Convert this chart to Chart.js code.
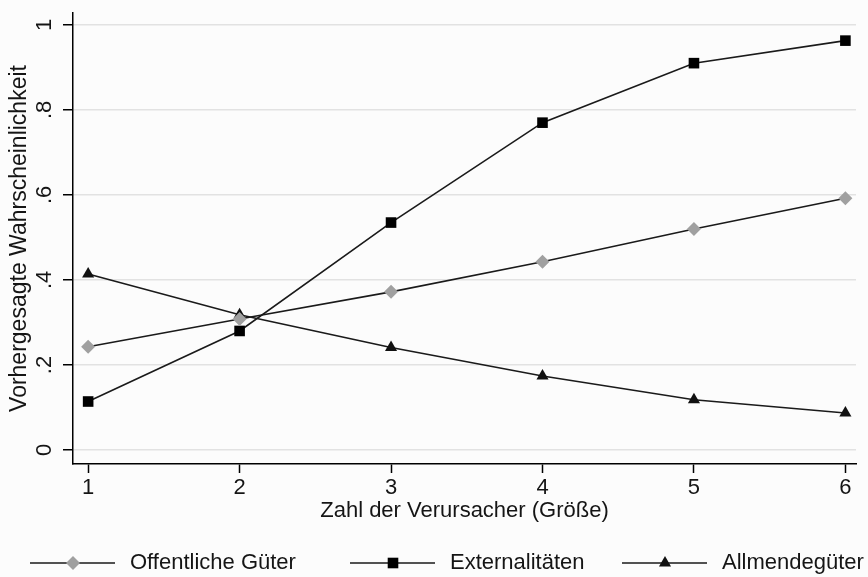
<!DOCTYPE html>
<html>
<head>
<meta charset="utf-8">
<script src="https://cdn.jsdelivr.net/npm/chart.js@4"></script>
<style>
  html, body { margin: 0; padding: 0; background: #fcfcfc; }
  #wrap { width: 868px; height: 577px; }
</style>
</head>
<body>
<div id="wrap"><canvas id="chart" width="868" height="577"></canvas></div>
<script>
// data
var xValues = [1, 2, 3, 4, 5, 6];
var oeffentlicheGueter = [0.243, 0.308, 0.372, 0.443, 0.520, 0.592];
var externalitaeten   = [0.114, 0.280, 0.535, 0.770, 0.910, 0.963];
var allmendegueter    = [0.414, 0.318, 0.241, 0.174, 0.118, 0.087];

var seriesLabels = ['Offentliche Güter', 'Externalitäten', 'Allmendegüter'];
var yTicks = [0, 0.2, 0.4, 0.6, 0.8, 1];
var yTickLabels = ['0', '.2', '.4', '.6', '.8', '1'];

var FONT = "'Liberation Sans', Arial, sans-serif";
var TEXT = '#151515';

function points(values) {
  return xValues.map(function(x, i) { return { x: x, y: values[i] }; });
}

// legend: line with marker in the middle, then the label
var legendX = [30, 350, 622];
var stataLegend = {
  id: 'stataLegend',
  afterDraw: function(chart) {
    var ctx = chart.ctx;
    var y = 563;
    ctx.save();
    chart.data.datasets.forEach(function(ds, i) {
      var x0 = legendX[i];
      ctx.strokeStyle = ds.borderColor;
      ctx.lineWidth = 1.6;
      ctx.beginPath();
      ctx.moveTo(x0, y);
      ctx.lineTo(x0 + 85, y);
      ctx.stroke();
      ctx.fillStyle = ds.pointBackgroundColor;
      ctx.strokeStyle = ds.pointBorderColor;
      Chart.helpers.drawPoint(ctx, {
        pointStyle: ds.pointStyle, radius: ds.pointRadius, borderWidth: 0
      }, x0 + 43, y);
      ctx.fillStyle = TEXT;
      ctx.font = '22px ' + FONT;
      ctx.textBaseline = 'middle';
      ctx.textAlign = 'left';
      ctx.fillText(ds.label, x0 + 100, y);
    });
    ctx.restore();
  }
};

var ctx = document.getElementById('chart');
var chart = new Chart(ctx, {
  type: 'line',
  data: {
    datasets: [
      {
        label: seriesLabels[0],
        data: points(oeffentlicheGueter),
        borderColor: '#1a1a1a',
        borderWidth: 1.6,
        pointStyle: 'rectRot',
        pointRadius: 7,
        pointBackgroundColor: '#a0a0a0',
        pointBorderColor: '#a0a0a0',
        pointBorderWidth: 0
      },
      {
        label: seriesLabels[1],
        data: points(externalitaeten),
        borderColor: '#1a1a1a',
        borderWidth: 1.6,
        pointStyle: 'rect',
        pointRadius: 7.5,
        pointBackgroundColor: '#000',
        pointBorderColor: '#000',
        pointBorderWidth: 0
      },
      {
        label: seriesLabels[2],
        data: points(allmendegueter),
        borderColor: '#1a1a1a',
        borderWidth: 1.6,
        pointStyle: 'triangle',
        pointRadius: 7,
        pointBackgroundColor: '#111',
        pointBorderColor: '#111',
        pointBorderWidth: 0
      }
    ]
  },
  options: {
    responsive: false,
    animation: false,
    layout: { padding: { top: 13, right: 12, left: 0, bottom: 0 } },
    plugins: {
      legend: { display: false },
      tooltip: { enabled: false }
    },
    scales: {
      x: {
        type: 'linear',
        min: 0.9,
        max: 6.07,
        afterFit: function(s) {
          s.height = 113;
          s.paddingLeft = 0;
          s.paddingRight = 0;
        },
        afterBuildTicks: function(s) {
          s.ticks = xValues.map(function(v) { return { value: v }; });
        },
        grid: {
          drawOnChartArea: false,
          drawTicks: true,
          tickLength: 9,
          tickWidth: 1.5,
          tickColor: '#000'
        },
        border: { display: true, color: '#000', width: 1.5 },
        ticks: {
          padding: 2,
          color: TEXT,
          font: { family: FONT, size: 22 },
          maxRotation: 0,
          callback: function(v) { return String(v); }
        },
        title: {
          display: true,
          text: 'Zahl der Verursacher (Größe)',
          color: TEXT,
          font: { family: FONT, size: 22 },
          padding: { top: 0, bottom: 53 }
        }
      },
      y: {
        min: -0.033,
        max: 1.028,
        afterFit: function(s) {
          s.width = 73;
          s.paddingTop = 0;
          s.paddingBottom = 0;
        },
        afterBuildTicks: function(s) {
          s.ticks = yTicks.map(function(v) { return { value: v }; });
        },
        grid: {
          color: '#e2e2e2',
          lineWidth: 1.5,
          drawTicks: true,
          tickLength: 10,
          tickWidth: 1.5,
          tickColor: '#000'
        },
        border: { display: true, color: '#000', width: 1.5 },
        ticks: {
          padding: 9,
          color: TEXT,
          minRotation: 90,
          maxRotation: 90,
          crossAlign: 'center',
          font: { family: FONT, size: 22 },
          callback: function(v) {
            var i = yTicks.indexOf(v);
            return i >= 0 ? yTickLabels[i] : '';
          }
        },
        title: {
          display: true,
          text: 'Vorhergesagte Wahrscheinlichkeit',
          color: TEXT,
          font: { family: FONT, size: 23 },
          padding: { top: 6, bottom: 0 }
        }
      }
    }
  },
  plugins: [stataLegend]
});
</script>
</body>
</html>
